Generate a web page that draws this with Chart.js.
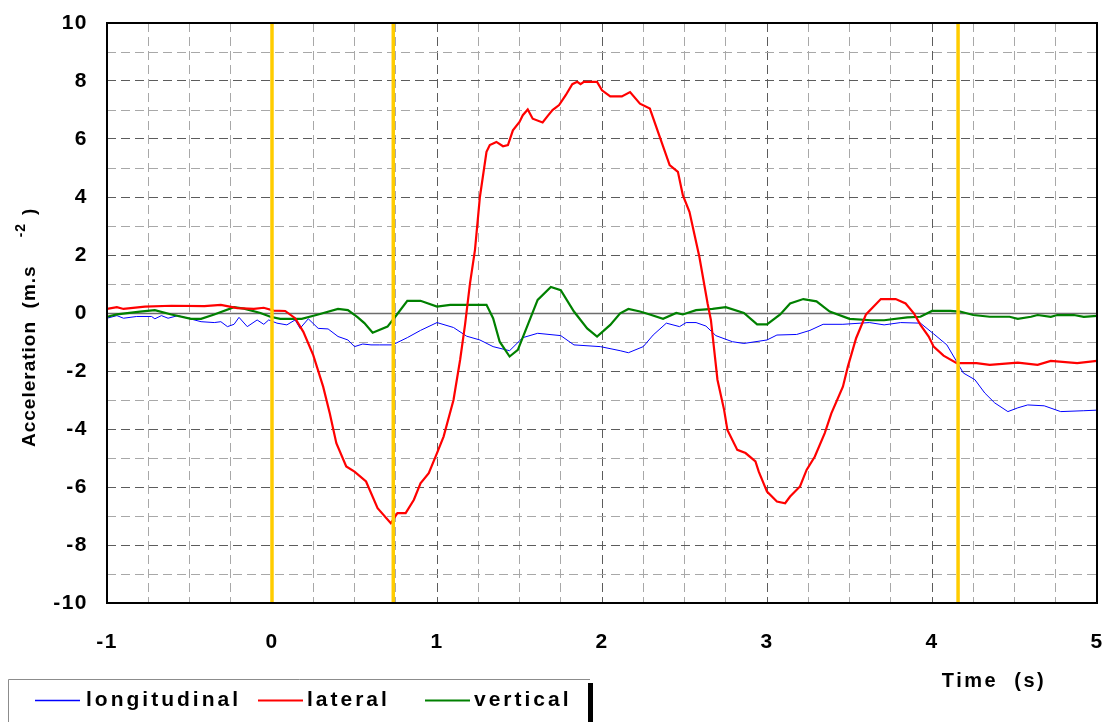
<!DOCTYPE html>
<html>
<head>
<meta charset="utf-8">
<title>Acceleration</title>
<script src="https://cdn.jsdelivr.net/npm/chart.js@4"></script>
<style>
  html, body { margin: 0; padding: 0; background: #fff; }
  canvas { display: block; }
</style>
</head>
<body>
<canvas id="accel" width="1112" height="722"></canvas>
<script>
// time (s) / acceleration (m/s^2) samples, one pair of arrays per channel
var lonTime = [
  -1.0,-0.94,-0.9,-0.82,-0.73,-0.71,-0.67,-0.63,-0.57,-0.51,
  -0.43,-0.35,-0.31,-0.27,-0.23,-0.2,-0.15,-0.09,-0.05,-0.02,
  0.03,0.09,0.14,0.17,0.22,0.28,0.34,0.4,0.46,0.5,
  0.55,0.6,0.65,0.73,0.82,0.9,1.0,1.1,1.18,1.26,
  1.34,1.44,1.52,1.61,1.75,1.83,1.99,2.11,2.16,2.25,
  2.31,2.39,2.47,2.51,2.57,2.63,2.69,2.79,2.86,3.0,
  3.06,3.18,3.26,3.34,3.46,3.62,3.71,3.81,3.93,4.01,
  4.09,4.15,4.19,4.26,4.32,4.38,4.46,4.52,4.58,4.68,
  4.78,4.92,5.0
];
var lonAccel = [
  -0.18,-0.09,-0.18,-0.12,-0.12,-0.2,-0.09,-0.18,-0.09,-0.18,
  -0.3,-0.33,-0.3,-0.47,-0.39,-0.15,-0.47,-0.24,-0.39,-0.24,
  -0.35,-0.41,-0.24,-0.53,-0.2,-0.53,-0.55,-0.81,-0.93,-1.16,
  -1.07,-1.1,-1.1,-1.1,-0.85,-0.6,-0.33,-0.5,-0.8,-0.93,
  -1.16,-1.3,-0.85,-0.7,-0.78,-1.1,-1.16,-1.3,-1.37,-1.16,
  -0.76,-0.35,-0.47,-0.33,-0.33,-0.45,-0.78,-0.99,-1.05,-0.93,
  -0.76,-0.74,-0.6,-0.39,-0.39,-0.33,-0.41,-0.33,-0.35,-0.72,
  -1.1,-1.68,-2.07,-2.3,-2.76,-3.1,-3.4,-3.27,-3.17,-3.2,
  -3.4,-3.37,-3.35
];

var latTime = [
  -1.0,-0.94,-0.9,-0.77,-0.61,-0.41,-0.31,-0.21,-0.11,-0.05,
  0.01,0.08,0.14,0.19,0.25,0.31,0.35,0.39,0.45,0.5,
  0.57,0.64,0.72,0.76,0.81,0.86,0.9,0.95,1.0,1.04,
  1.1,1.14,1.17,1.2,1.23,1.26,1.3,1.32,1.36,1.4,
  1.43,1.46,1.5,1.52,1.55,1.58,1.64,1.67,1.7,1.74,
  1.78,1.82,1.85,1.87,1.89,1.97,2.0,2.05,2.12,2.17,
  2.23,2.29,2.35,2.41,2.46,2.49,2.53,2.59,2.64,2.66,
  2.7,2.74,2.76,2.82,2.87,2.93,2.95,3.0,3.06,3.11,
  3.14,3.2,3.24,3.29,3.35,3.39,3.46,3.49,3.54,3.6,
  3.69,3.78,3.84,3.89,3.93,3.98,4.01,4.07,4.15,4.27,
  4.35,4.52,4.64,4.72,4.88,5.0
];
var latAccel = [
  0.14,0.2,0.14,0.22,0.25,0.24,0.28,0.17,0.14,0.18,
  0.08,0.07,-0.18,-0.65,-1.45,-2.54,-3.46,-4.49,-5.29,-5.47,
  -5.81,-6.73,-7.25,-6.9,-6.9,-6.44,-5.87,-5.52,-4.83,-4.26,
  -3.0,-1.62,-0.4,1.02,2.17,4.0,5.56,5.79,5.9,5.75,
  5.79,6.3,6.59,6.82,7.02,6.7,6.57,6.79,7.0,7.17,
  7.51,7.89,7.97,7.89,7.97,7.97,7.68,7.47,7.47,7.62,
  7.22,7.05,6.07,5.1,4.87,4.06,3.49,1.94,0.33,-0.24,
  -2.31,-3.34,-4.03,-4.72,-4.83,-5.12,-5.47,-6.16,-6.5,-6.56,
  -6.33,-5.98,-5.41,-4.95,-4.14,-3.46,-2.54,-1.85,-0.87,-0.05,
  0.48,0.48,0.33,-0.01,-0.41,-0.81,-1.16,-1.47,-1.73,-1.73,
  -1.79,-1.71,-1.79,-1.65,-1.73,-1.65
];

var vertTime = [
  -1.0,-0.94,-0.8,-0.71,-0.61,-0.49,-0.43,-0.35,-0.23,-0.17,
  -0.07,-0.01,0.05,0.18,0.28,0.4,0.46,0.52,0.56,0.61,
  0.7,0.74,0.82,0.9,1.0,1.08,1.3,1.34,1.38,1.44,
  1.49,1.55,1.61,1.69,1.75,1.83,1.91,1.97,2.05,2.11,
  2.16,2.23,2.29,2.37,2.45,2.49,2.57,2.67,2.75,2.86,
  2.94,3.0,3.08,3.14,3.22,3.3,3.38,3.5,3.63,3.71,
  3.85,3.93,4.0,4.11,4.17,4.25,4.35,4.47,4.52,4.6,
  4.64,4.72,4.76,4.86,4.92,5.0
];
var vertAccel = [
  -0.13,-0.05,0.05,0.1,-0.05,-0.2,-0.2,-0.05,0.2,0.15,
  0.0,-0.13,-0.2,-0.2,-0.05,0.14,0.1,-0.15,-0.35,-0.68,
  -0.47,-0.18,0.42,0.42,0.22,0.28,0.28,-0.18,-0.99,-1.5,
  -1.27,-0.41,0.45,0.9,0.79,0.05,-0.53,-0.81,-0.41,-0.01,
  0.14,0.05,-0.05,-0.2,0.0,-0.05,0.1,0.14,0.2,0.0,
  -0.39,-0.39,-0.05,0.33,0.48,0.4,0.05,-0.2,-0.25,-0.25,
  -0.15,-0.13,0.07,0.07,0.05,-0.07,-0.13,-0.13,-0.2,-0.13,
  -0.07,-0.13,-0.07,-0.07,-0.13,-0.1
];

// event instants marked with vertical bars
var eventTimes = [0, 0.735, 4.158];

var FONT = '"Liberation Sans", Arial, sans-serif';

function pts(t, a) {
  return t.map(function (v, i) { return { x: v, y: a[i] }; });
}

var datasets = [];

// yellow event bars (drawn on top of the traces)
eventTimes.forEach(function (t) {
  datasets.push({
    data: [{ x: t, y: -10 }, { x: t, y: 10 }],
    borderColor: '#ffcc00',
    borderWidth: 3.5,
    pointRadius: 0,
    order: 0
  });
});

datasets.push({
  label: 'lateral', data: pts(latTime, latAccel),
  borderColor: '#ff0000', borderWidth: 2.2, pointRadius: 0, order: 1
});
datasets.push({
  label: 'vertical', data: pts(vertTime, vertAccel),
  borderColor: '#008000', borderWidth: 2.2, pointRadius: 0, order: 2
});
datasets.push({
  label: 'longitudinal', data: pts(lonTime, lonAccel),
  borderColor: '#0000ff', borderWidth: 1, pointRadius: 0, order: 3
});

// legend entries: name, where its sample line starts, where its text starts
var legendNames = ['longitudinal', 'lateral', 'vertical'];
var legendLineX = [35, 258, 425];
var legendTextX = [86, 307, 474];

var extras = {
  id: 'extras',
  beforeDraw: function (chart) {
    chart.ctx.letterSpacing = '1.5px';
  },
  beforeDatasetsDraw: function (chart) {
    // solid zero line across the plot
    var ctx = chart.ctx, a = chart.chartArea;
    var py = Math.round(chart.scales.y.getPixelForValue(0)) + 0.5;
    ctx.save();
    ctx.setLineDash([]);
    ctx.strokeStyle = '#6e6e6e';
    ctx.lineWidth = 1.5;
    ctx.beginPath();
    ctx.moveTo(a.left, py);
    ctx.lineTo(a.right, py);
    ctx.stroke();
    ctx.restore();
  },
  afterDraw: function (chart) {
    var ctx = chart.ctx, a = chart.chartArea;
    ctx.save();
    ctx.setLineDash([]);

    // plot frame
    ctx.strokeStyle = '#000';
    ctx.lineWidth = 2;
    ctx.strokeRect(a.left, a.top, a.right - a.left, a.bottom - a.top);

    ctx.fillStyle = '#000';

    // y title with superscript
    ctx.letterSpacing = '1px';
    ctx.translate(35, 447);
    ctx.rotate(-Math.PI / 2);
    ctx.textBaseline = 'alphabetic';
    ctx.textAlign = 'left';
    ctx.font = 'bold 19px ' + FONT;
    var main = 'Acceleration  (m.s';
    ctx.fillText(main, 0, 0);
    var w = ctx.measureText(main).width;
    ctx.font = 'bold 14px ' + FONT;
    ctx.fillText('-2', w + 28, -10);
    var w2 = ctx.measureText('-2').width;
    ctx.font = 'bold 19px ' + FONT;
    ctx.fillText(')', w + 28 + w2 + 8, 0);
    ctx.setTransform(1, 0, 0, 1, 0, 0);

    // x title
    ctx.letterSpacing = '2.5px';
    ctx.font = 'bold 20px ' + FONT;
    ctx.textAlign = 'center';
    ctx.textBaseline = 'middle';
    ctx.fillText('Time  (s)', 994, 681);

    // legend box
    ctx.fillStyle = '#fff';
    ctx.fillRect(8, 679, 582, 43);
    ctx.strokeStyle = '#8c8c8c';
    ctx.lineWidth = 1;
    ctx.beginPath();
    ctx.moveTo(8.5, 722);
    ctx.lineTo(8.5, 679.5);
    ctx.lineTo(590, 679.5);
    ctx.stroke();
    ctx.fillStyle = '#000';
    ctx.fillRect(588, 683, 5, 39);

    ctx.letterSpacing = '3px';
    ctx.font = 'bold 21px ' + FONT;
    ctx.textAlign = 'left';
    ctx.textBaseline = 'middle';
    var y = 700;
    legendNames.forEach(function (name, i) {
      var d = chart.data.datasets.find(function (s) { return s.label === name; });
      ctx.strokeStyle = d.borderColor;
      ctx.lineWidth = d.borderWidth > 1.5 ? 2 : 1.5;
      ctx.beginPath();
      ctx.moveTo(legendLineX[i], y + 0.5);
      ctx.lineTo(legendLineX[i] + 45, y + 0.5);
      ctx.stroke();
      ctx.fillStyle = '#000';
      ctx.fillText(d.label, legendTextX[i], y);
    });
    ctx.restore();
  }
};

new Chart(document.getElementById('accel'), {
  type: 'line',
  data: { datasets: datasets },
  options: {
    responsive: false,
    animation: false,
    layout: { padding: { top: 23, right: 15, left: 0, bottom: 0 } },
    plugins: {
      legend: { display: false },
      tooltip: { enabled: false }
    },
    elements: { line: { tension: 0 } },
    scales: {
      x: {
        type: 'linear',
        min: -1,
        max: 5,
        afterFit: function (s) {
          s.height = 119;
          s.paddingLeft = 0;
          s.paddingRight = 0;
        },
        ticks: {
          stepSize: 0.25,
          autoSkip: false,
          maxRotation: 0,
          padding: 27,
          color: '#000',
          font: { family: FONT, size: 21, weight: 'bold' },
          callback: function (v) { return Number.isInteger(v) ? v : ''; }
        },
        grid: {
          drawTicks: false,
          lineWidth: 1,
          color: function (c) { return Number.isInteger(c.tick.value) ? '#5c5c5c' : '#a8a8a8'; }
        },
        border: { display: false, dash: [9, 5] }
      },
      y: {
        min: -10,
        max: 10,
        afterFit: function (s) {
          s.width = 107;
          s.paddingTop = 0;
          s.paddingBottom = 0;
        },
        ticks: {
          stepSize: 1,
          padding: 19,
          color: '#000',
          font: { family: FONT, size: 21, weight: 'bold' },
          callback: function (v) { return v % 2 === 0 ? v : ''; }
        },
        grid: {
          drawTicks: false,
          lineWidth: 1,
          color: function (c) { return c.tick.value % 2 === 0 ? '#5c5c5c' : '#a8a8a8'; }
        },
        border: { display: false, dash: [9, 5] }
      }
    }
  },
  plugins: [extras]
});
</script>
</body>
</html>
